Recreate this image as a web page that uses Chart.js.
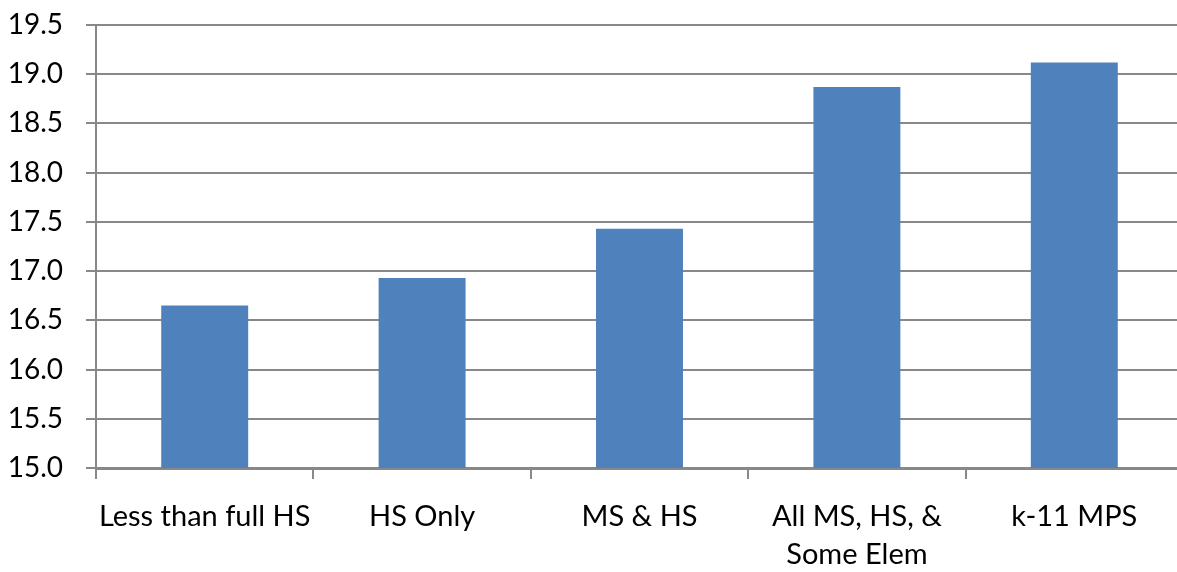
<!DOCTYPE html>
<html>
<head>
<meta charset="utf-8">
<script src="https://cdn.jsdelivr.net/npm/chart.js@4.4.1/dist/chart.umd.min.js"></script>
<style>
  html, body { margin: 0; padding: 0; background: #ffffff; overflow: hidden; }
  #wrap { width: 1177px; height: 572px; overflow: hidden; }
  canvas { display: block; }
</style>
</head>
<body>
<div id="wrap"><canvas id="chart" width="1200" height="572"></canvas></div>
<script>
// Average score by grade configuration
const categories = [
  'Less than full HS',
  'HS Only',
  'MS & HS',
  ['All MS, HS, &', 'Some Elem'],
  'k-11 MPS'
];
const scores = [16.65, 16.93, 17.43, 18.87, 19.12];
const yMin = 15.0;
const yMax = 19.5;
const yStep = 0.5;

const FONT = 'Lato, "Liberation Sans", sans-serif';
const GRID = '#888888';

new Chart(document.getElementById('chart'), {
  type: 'bar',
  data: {
    labels: categories,
    datasets: [{
      data: scores,
      backgroundColor: '#4f81bd',
      borderWidth: 0,
      categoryPercentage: 1.0,
      barPercentage: 0.4
    }]
  },
  options: {
    responsive: false,
    animation: false,
    devicePixelRatio: 1,
    layout: { padding: { top: 25, right: 17, left: 0, bottom: 0 } },
    plugins: {
      legend: { display: false },
      tooltip: { enabled: false }
    },
    scales: {
      x: {
        afterFit(scale) {
          scale.height = 104;
          scale.paddingLeft = 0;
          scale.paddingRight = 0;
        },
        grid: {
          offset: true,
          drawOnChartArea: false,
          drawTicks: true,
          tickLength: 11,
          color: GRID,
          lineWidth: 2
        },
        border: { display: true, color: GRID, width: 3 },
        ticks: {
          color: '#000000',
          padding: 19,
          maxRotation: 0,
          autoSkip: false,
          font: { family: FONT, size: 29, lineHeight: 1.31 }
        }
      },
      y: {
        min: yMin,
        max: yMax,
        afterFit(scale) {
          scale.width = 96;
          scale.paddingTop = 0;
          scale.paddingBottom = 0;
        },
        grid: {
          drawTicks: true,
          tickLength: 10,
          color: GRID,
          lineWidth: 2
        },
        border: { display: true, color: GRID, width: 2 },
        ticks: {
          stepSize: yStep,
          color: '#000000',
          padding: 23,
          font: { family: FONT, size: 28 },
          callback: (v) => Number(v).toFixed(1)
        }
      }
    }
  }
});
</script>
</body>
</html>
